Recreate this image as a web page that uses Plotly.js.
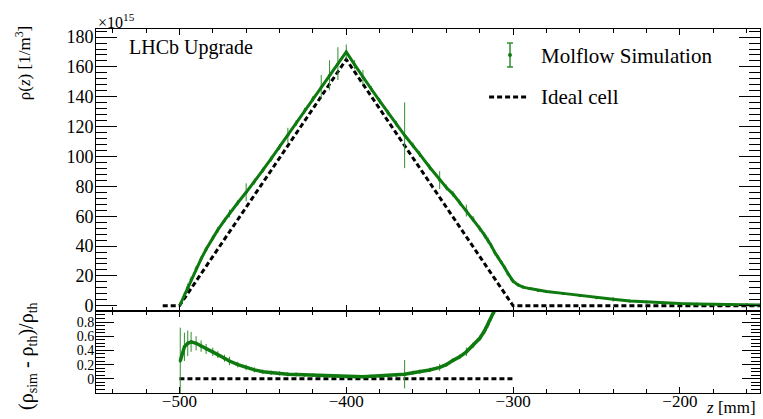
<!DOCTYPE html>
<html>
<head>
<meta charset="utf-8">
<script src="https://cdn.plot.ly/plotly-3.0.1.min.js"></script>
<style>html,body{margin:0;padding:0;background:#fff;}#chart{width:763px;height:419px;}</style>
</head>
<body>
<div id="chart"></div>
<script>
// ---- Data ----
// Molflow simulation density (x1e15 1/m^3) vs z [mm]
const zSim = [-499.5,-497,-495,-493,-490,-487,-484,-480,-477,-473,-470,-465,-460,-455,-450,-445,-440,-435,-430,-425,-420,-415,-410,-405,-400,-395,-390,-385,-380,-375,-370,-365,-360,-356,-350,-344,-340,-336,-332,-328,-324,-320,-317,-315,-313,-311,-309,-307,-305,-303,-301,-300,-297,-294,-290,-285,-280,-270,-260,-250,-240,-230,-220,-210,-200,-190,-180,-170,-160,-152];
const rhoSim = [1.0,7.2,12.4,17.6,24.8,31.4,37.8,45.4,50.8,57.2,61.8,69.0,76.0,83.2,90.8,98.5,106.4,114.2,122.4,130.6,138.6,146.6,154.4,162.2,170.0,161.5,153.0,145.2,137.3,129.3,121.9,114.2,107.4,101.6,92.8,84.2,79.2,74.8,69.2,63.8,58.2,51.8,47.1,43.8,40.1,35.8,32.5,29.0,25.5,21.5,18.0,16.5,14.0,12.5,11.5,10.3,9.5,8.3,6.8,5.4,4.3,3.2,2.5,1.9,1.5,1.2,1.0,0.8,0.6,0.5];
const rhoSimErr = [1.0,2.0,2.5,2.0,2.0,1.8,1.8,1.8,2.0,1.8,2.5,1.8,6.0,2.0,1.8,2.0,2.0,5.0,2.0,2.0,2.0,8.0,10.0,11.0,5.0,3.0,5.0,2.0,2.0,2.0,2.0,22.0,2.0,2.0,2.0,6.0,2.0,2.0,2.0,4.0,2.0,2.0,2.0,2.0,2.0,2.0,1.5,1.5,1.5,1.5,1.2,1.2,1.0,1.0,1.0,1.0,1.0,0.8,0.8,0.8,1.5,0.8,0.6,0.6,0.6,0.5,0.5,0.5,0.5,0.5];
// Ideal cell (triangular profile)
const zIdeal = [-510,-500,-400,-300,-152];
const rhoIdeal = [0,0,165,0,0];
// Ratio (rho_sim - rho_th)/rho_th
const zRatio = [-499.5,-497,-495,-493,-490,-487,-484,-480,-477,-473,-470,-465,-460,-455,-450,-445,-440,-435,-430,-425,-420,-415,-410,-405,-400,-395,-390,-385,-380,-375,-370,-365,-360,-356,-350,-344,-340,-336,-332,-328,-324,-320,-317,-315,-313,-311,-309,-307];
const ratio = [0.25,0.45,0.50,0.52,0.50,0.46,0.42,0.38,0.34,0.29,0.25,0.20,0.16,0.125,0.10,0.085,0.075,0.065,0.06,0.055,0.05,0.045,0.04,0.035,0.03,0.03,0.03,0.035,0.04,0.045,0.055,0.065,0.085,0.10,0.125,0.16,0.20,0.26,0.31,0.38,0.47,0.57,0.68,0.77,0.87,0.97,1.10,1.25];
const ratioErr = [0.47,0.2,0.18,0.14,0.1,0.08,0.07,0.06,0.05,0.05,0.06,0.04,0.04,0.035,0.03,0.03,0.03,0.03,0.03,0.025,0.025,0.025,0.025,0.025,0.025,0.025,0.025,0.025,0.025,0.025,0.025,0.2,0.03,0.03,0.03,0.05,0.03,0.03,0.035,0.06,0.04,0.04,0.05,0.05,0.05,0.06,0.06,0.06];
const zIdealRatio = [-500,-300];
const ratioIdeal = [0,0];
const xTicks = [-500,-400,-300,-200];

const GREEN = '#0f7a0f';
const EGREEN = '#2f8f2f';
const FONT = 'Liberation Serif';

const traces = [
  {x: zIdeal, y: rhoIdeal, xaxis:'x2', yaxis:'y2', mode:'lines', type:'scatter',
   line:{color:'#000', width:3, dash:'5px,3px'}, hoverinfo:'skip'},
  {x: zSim, y: rhoSim, xaxis:'x2', yaxis:'y2', mode:'lines+markers', type:'scatter',
   line:{color:GREEN, width:3}, marker:{color:GREEN, size:3},
   error_y:{type:'data', array: rhoSimErr, visible:true, color:EGREEN, thickness:1, width:0}},
  {x: zIdealRatio, y: ratioIdeal, xaxis:'x', yaxis:'y', mode:'lines', type:'scatter',
   line:{color:'#000', width:3, dash:'5px,3px'}, hoverinfo:'skip'},
  {x: zRatio, y: ratio, xaxis:'x', yaxis:'y', mode:'lines+markers', type:'scatter',
   line:{color:GREEN, width:3.5}, marker:{color:GREEN, size:3}, cliponaxis:true,
   error_y:{type:'data', array: ratioErr, visible:true, color:EGREEN, thickness:1, width:0}}
];

const frame = {showline:true, linecolor:'#000', linewidth:1, mirror:'ticks', showgrid:false, zeroline:false};

const layout = {
  width:763, height:419,
  margin:{l:96, r:3, t:29, b:26, pad:0},
  paper_bgcolor:'#fff', plot_bgcolor:'#fff',
  showlegend:false,
  font:{family:FONT, color:'#000'},
  xaxis: Object.assign({}, frame, {
    anchor:'y', range:[-550,-152], tickvals:xTicks, ticks:'inside', ticklen:6, tickcolor:'#000',
    minor:{dtick:20, tick0:0, ticks:'inside', ticklen:4, tickcolor:'#000'},
    tickfont:{size:17, family:FONT}, ticklabelstandoff:-7
  }),
  yaxis: Object.assign({}, frame, {
    anchor:'x', domain:[0,0.2253], range:[-0.2,0.955], tickvals:[0,0.2,0.4,0.6,0.8],
    ticktext:['0','0.2','0.4','0.6','0.8'],
    ticks:'inside', ticklen:18, tickcolor:'#000',
    minor:{dtick:0.05, tick0:0, ticks:'inside', ticklen:9, tickcolor:'#000'},
    tickfont:{size:14, family:FONT}, ticklabelstandoff:-2
  }),
  xaxis2: Object.assign({}, frame, {
    anchor:'y2', matches:'x', range:[-550,-152], tickvals:xTicks, ticks:'inside', ticklen:6, tickcolor:'#000',
    minor:{dtick:20, tick0:0, ticks:'inside', ticklen:4, tickcolor:'#000'},
    showticklabels:false
  }),
  yaxis2: Object.assign({}, frame, {
    anchor:'x2', domain:[0.2253,1], range:[-3.5,185.4], dtick:20, tick0:0,
    ticks:'inside', ticklen:21, tickcolor:'#000',
    minor:{dtick:4, tick0:0, ticks:'inside', ticklen:11, tickcolor:'#000'},
    tickfont:{size:18, family:FONT}, ticklabelstandoff:-2
  }),
  annotations: [
    {text:'ρ(<i>z</i>) [1/m<sup>3</sup>]', xref:'paper', yref:'paper', x:-0.11, y:0.906, textangle:-90,
     xanchor:'center', yanchor:'middle', showarrow:false, font:{size:17, family:FONT}},
    {text:'(ρ<sub>sim</sub> - ρ<sub>th</sub>)/ρ<sub>th</sub>', xref:'paper', yref:'paper', x:-0.104, y:0.1016, textangle:-90,
     xanchor:'center', yanchor:'middle', showarrow:false, font:{size:20, family:FONT}},
    {text:'×10<sup>15</sup>', xref:'paper', yref:'paper', x:0.0, y:0.99, xanchor:'left', yanchor:'bottom',
     showarrow:false, font:{size:16, family:FONT}},
    {text:'LHCb Upgrade', xref:'paper', yref:'paper', x:0.047, y:0.948, xanchor:'left', yanchor:'middle',
     showarrow:false, font:{size:20, family:FONT}},
    {text:'Molflow Simulation', xref:'paper', yref:'paper', x:0.667, y:0.925, xanchor:'left', yanchor:'middle',
     showarrow:false, font:{size:21, family:FONT}},
    {text:'Ideal cell', xref:'paper', yref:'paper', x:0.667, y:0.813, xanchor:'left', yanchor:'middle',
     showarrow:false, font:{size:21, family:FONT}},
    {text:'<i>z</i> [mm]', xref:'paper', yref:'paper', x:0.997, y:-0.0714, xanchor:'right', yanchor:'bottom',
     showarrow:false, font:{size:17, family:FONT}}
  ],
  shapes: [
    {type:'line', xref:'paper', yref:'paper', x0:0.6235, x1:0.6235, y0:0.8956, y1:0.9615, line:{color:EGREEN, width:1.5}},
    {type:'line', xref:'paper', yref:'paper', x0:0.619, x1:0.628, y0:0.9615, y1:0.9615, line:{color:EGREEN, width:1.5}},
    {type:'line', xref:'paper', yref:'paper', x0:0.619, x1:0.628, y0:0.8956, y1:0.8956, line:{color:EGREEN, width:1.5}},
    {type:'circle', xref:'paper', yref:'paper', x0:0.6205, x1:0.6265, y0:0.9231, y1:0.9341, fillcolor:GREEN, line:{color:GREEN, width:0}},
    {type:'line', xref:'paper', yref:'paper', x0:0.592, x1:0.651, y0:0.8132, y1:0.8132, line:{color:'#000', width:3, dash:'5px,3px'}}
  ]
};

Plotly.newPlot('chart', traces, layout, {displayModeBar:false, staticPlot:true});
</script>
</body>
</html>
